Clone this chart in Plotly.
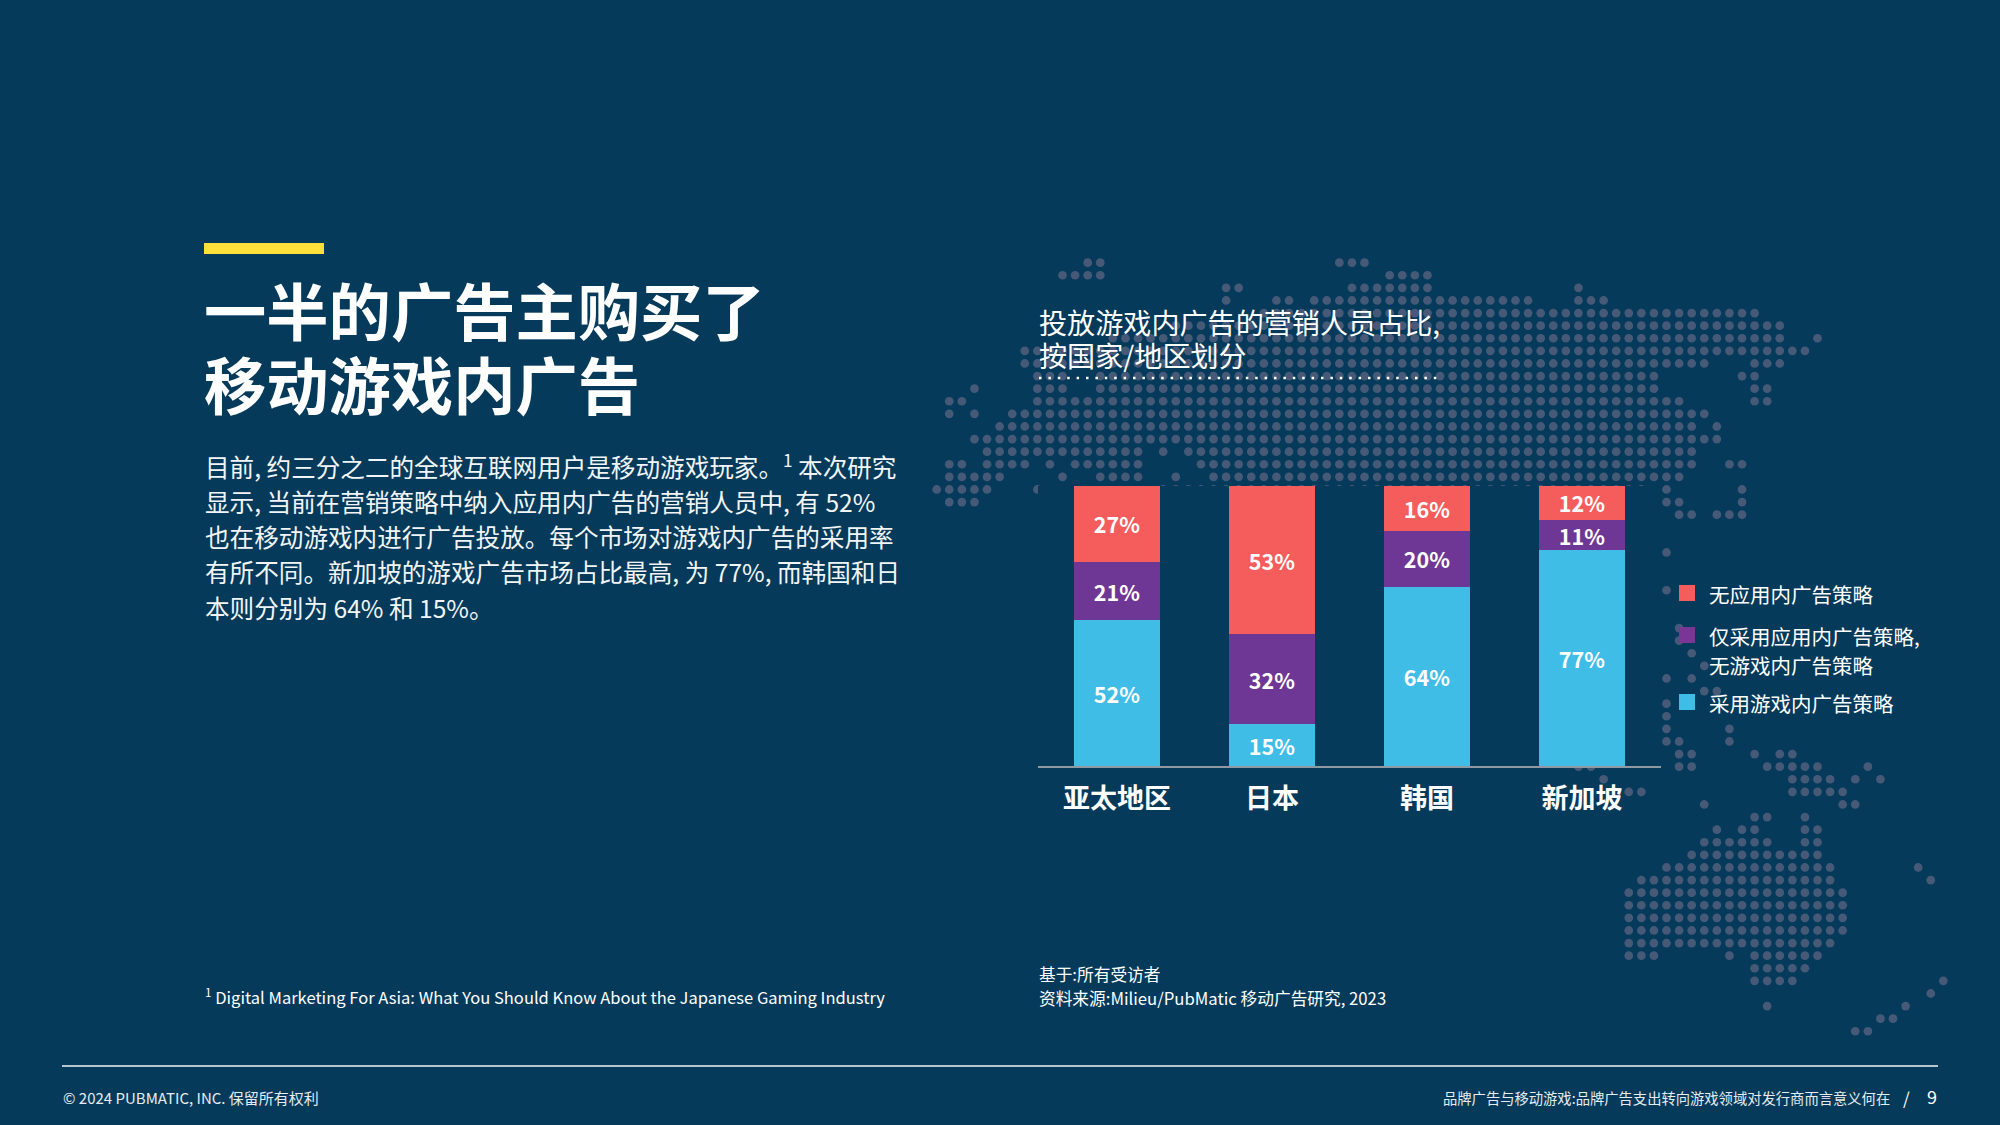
import plotly.graph_objects as go

# stacked bars
regions = ["亚太地区", "日本", "韩国", "新加坡"]
in_game = [52, 15, 64, 77]
in_app_only = [21, 32, 20, 11]
no_in_app = [27, 53, 16, 12]

legend_labels = ["无应用内广告策略", "仅采用应用内广告策略,", "无游戏内广告策略", "采用游戏内广告策略"]

title_lines = ["一半的广告主购买了", "移动游戏内广告"]
body_lines = [
    "目前, 约三分之二的全球互联网用户是移动游戏玩家。<sup>1</sup> 本次研究",
    "显示, 当前在营销策略中纳入应用内广告的营销人员中, 有 52%",
    "也在移动游戏内进行广告投放。每个市场对游戏内广告的采用率",
    "有所不同。新加坡的游戏广告市场占比最高, 为 77%, 而韩国和日",
    "本则分别为 64% 和 15%。",
]
chart_title = ["投放游戏内广告的营销人员占比,", "按国家/地区划分"]
footnote = "<sup>1</sup> Digital Marketing For Asia: What You Should Know About the Japanese Gaming Industry"
sources = ["基于:所有受访者", "资料来源:Milieu/PubMatic 移动广告研究, 2023"]
footer_left = "© 2024 PUBMATIC, INC. 保留所有权利"
footer_right = "品牌广告与移动游戏:品牌广告支出转向游戏领域对发行商而言意义何在"
page_no = "9"

# dotted world map, one string per grid row, runs of occupied columns
map_rows = [
    "12-13 32-34", "10-13 36-39", "23-24 33-39 51", "23 27-28 30-47 51-53",
    "26-65", "19-67", "14-67 70", "7-69",
    "7-61 65-67", "8-10 13-57 64-65", "3 8-10 13-57 65-66", "1-2 8-59 65-66",
    "1 3 6-61", "5-60 62", "3-62", "4-16 18 20-60",
    "1-2 4-7 9 11-16 21-60 63-64", "1-5 10 13-16 19 22-59", "0-4 8 18-56 58 64",
    "1-3 10 18-56 58-59 64", "20-48 55-56 59-60 62-64", "20-48 55-56",
    "20-48 55-57", "20-48 55-58", "20-48 55-57", "21-48 55-57",
    "21-23 30 35 43-48 55-56 58", "22-23 30 43 46-48", "22-23 30 47-48",
    "23 47-48 59", "59", "60", "61", "58 60", "61-62", "58", "56-58",
    "55-58 63", "55-59 63", "55-57 59-60 65 67-68", "51-52 59-60 66-70 74",
    "53 68-71 73 75", "55-56 68-72", "61 72-73", "65-66 69", "62 64-65 69-70",
    "61-66 69-70", "60-70", "58-71 78", "56-71 79", "55-72", "55-72", "55-72",
    "55-72", "55-71", "55-57 63 65-70", "65-69", "65-68 80", "79", "66 77",
    "75-76", "73-74",
]

W, H = 2000, 1125
BG = "#053A5B"
RED = "#F45D5C"
PURPLE = "#6E3795"
BLUE = "#3FBDE6"
DOT = "#465A78"
CJK = "Noto Sans CJK SC"

dot_x, dot_y = [], []
for r, row in enumerate(map_rows):
    for run in row.split():
        a, _, b = run.partition("-")
        for c in range(int(a), int(b or a) + 1):
            dot_x.append(c)
            dot_y.append(r)

fig = go.Figure()

# map goes on the first axes so the bars sit above it
fig.add_trace(go.Scatter(x=dot_x, y=dot_y, mode="markers", hoverinfo="skip",
                         marker=dict(size=8.7, color=DOT, line_width=0),
                         showlegend=False, xaxis="x", yaxis="y"))

for name, vals, col in [("采用游戏内广告策略", in_game, BLUE),
                        ("仅采用应用内广告策略", in_app_only, PURPLE),
                        ("无应用内广告策略", no_in_app, RED)]:
    fig.add_trace(go.Bar(
        x=regions, y=vals, name=name, marker=dict(color=col, line_width=0),
        text=[f"{v}%" for v in vals], textposition="inside", insidetextanchor="middle",
        textangle=0, constraintext="none",
        textfont=dict(family=CJK, size=21.5, color="white", weight="bold"),
        width=0.555, showlegend=False, xaxis="x2", yaxis="y2"))


def px_x(v):
    return v / W


def px_y(v):
    return 1 - v / H


def label(text, x, y, size, color="white", family=CJK, weight="normal", anchor="left"):
    fig.add_annotation(text=text, x=px_x(x), y=px_y(y), xref="paper", yref="paper",
                       xanchor=anchor, yanchor="middle", showarrow=False, align=anchor,
                       font=dict(family=family, size=size, color=color, weight=weight))


for line, y in zip(title_lines, [309.5, 382.5]):
    label(line, 202, y, 62.3, weight="bold")
for line, y in zip(body_lines, [465, 501, 536, 571, 606.5]):
    label(line, 202.5, y, 24.6, color="#F2F5F7")
for line, y in zip(chart_title, [321, 354]):
    label(line, 1037, y, 28.1)
for line, y in zip(sources, [973.5, 997.5]):
    label(line, 1037, y, 16.7)
label(footnote, 203, 996.5, 16.55)
label(footer_left, 61, 1097, 15, color="#E6ECF0")
label(footer_right, 1892, 1097, 14.3, color="#E6ECF0", anchor="right")
label("/", 1906, 1097, 17, anchor="center")
label(page_no, 1939, 1096, 18, anchor="right")

for text, y in zip(legend_labels, [594, 636, 665.5, 703]):
    label(text, 1706.5, y, 20.5)

shapes = [
    dict(type="rect", x0=px_x(204), x1=px_x(324), y0=px_y(254), y1=px_y(243), fillcolor="#FFE03B"),
    dict(type="rect", x0=px_x(1679), x1=px_x(1695), y0=px_y(601), y1=px_y(585), fillcolor=RED),
    dict(type="rect", x0=px_x(1679), x1=px_x(1695), y0=px_y(643), y1=px_y(627), fillcolor="#7B3594"),
    dict(type="rect", x0=px_x(1679), x1=px_x(1695), y0=px_y(710), y1=px_y(694), fillcolor=BLUE),
]
for s in shapes:
    s.update(xref="paper", yref="paper", line_width=0, layer="above")
    fig.add_shape(**s)
fig.add_shape(type="line", xref="paper", yref="paper", x0=px_x(62), x1=px_x(1938),
              y0=px_y(1066), y1=px_y(1066), line=dict(color="#F2F5F7", width=1.5))
fig.add_shape(type="line", xref="paper", yref="paper", x0=px_x(1039), x1=px_x(1438),
              y0=px_y(378), y1=px_y(378), line=dict(color="white", width=2.5, dash="2.5px,6.9px"))

fig.update_layout(
    width=W, height=H, margin=dict(l=0, r=0, t=0, b=0),
    paper_bgcolor=BG, plot_bgcolor=BG, barmode="stack", bargap=0.445,
    showlegend=False,
    xaxis=dict(domain=[0, 1], range=[-936.7 / 12.583, (W - 936.7) / 12.583], visible=False),
    yaxis=dict(domain=[0, 1], range=[(H - 262.67) / 12.6, -262.67 / 12.6], visible=False),
    xaxis2=dict(domain=[px_x(1038), px_x(1661)], range=[-0.51, 3.51], anchor="y2",
                type="category", categoryorder="array", categoryarray=regions,
                showline=True, linecolor="#8E99A3", linewidth=2, showgrid=False,
                ticks="", ticklabelstandoff=8,
                tickfont=dict(family=CJK, size=27, color="white", weight="bold")),
    yaxis2=dict(domain=[px_y(766), px_y(486)], range=[0, 100], anchor="x2", visible=False),
)

fig.write_html("out.html", config={"displayModeBar": False},
               post_script="document.body.style.margin='0'")
